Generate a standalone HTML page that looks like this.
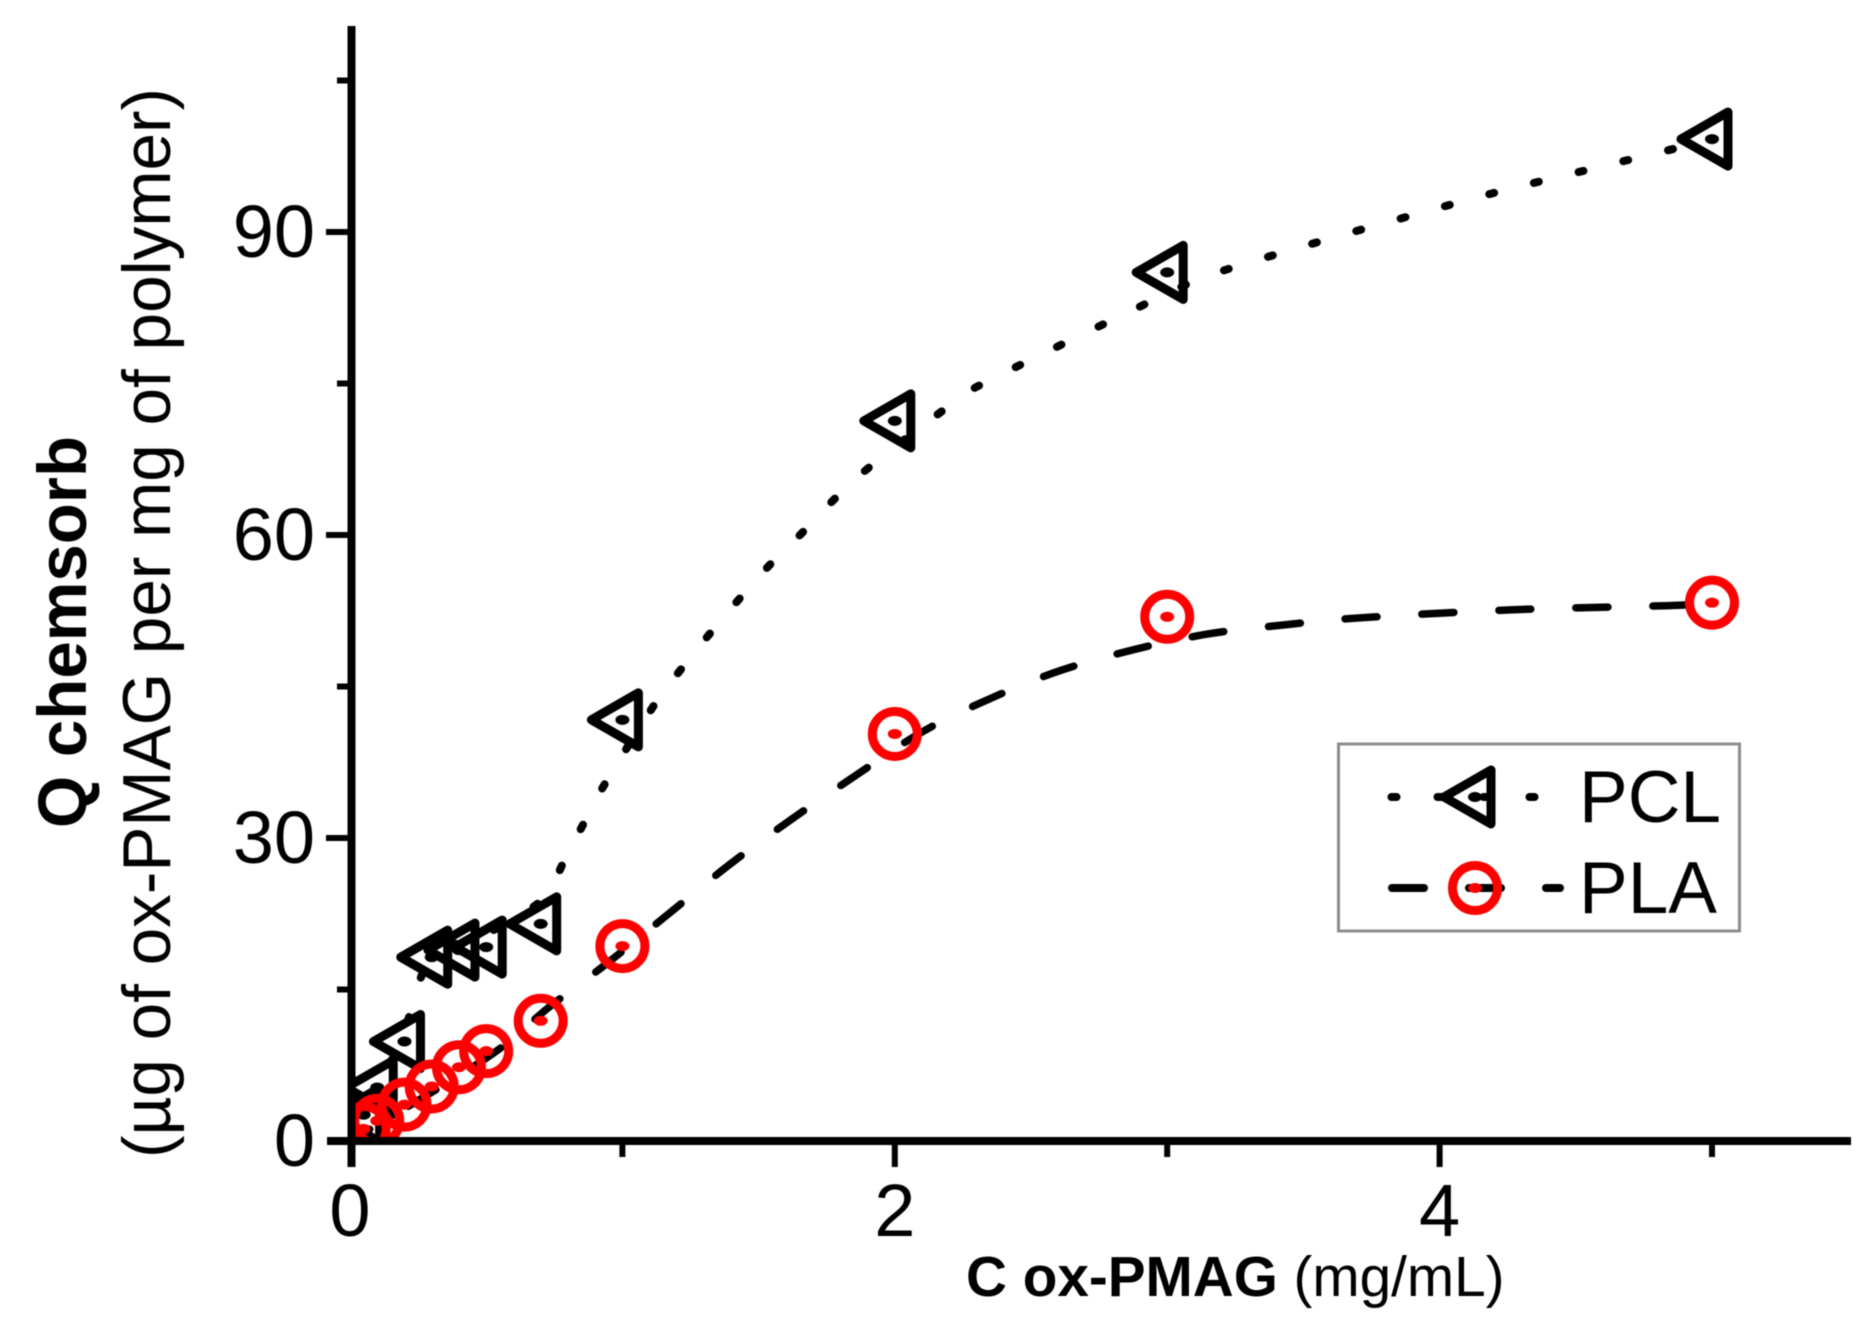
<!DOCTYPE html>
<html>
<head>
<meta charset="utf-8">
<title>Q chemsorb vs C ox-PMAG</title>
<style>
html,body{margin:0;padding:0;background:#fff;width:1875px;height:1333px;overflow:hidden}
svg{display:block;font-family:"Liberation Sans",sans-serif;filter:blur(0.6px)}
</style>
</head>
<body>
<svg id="chart" width="1875" height="1333" viewBox="0 0 1875 1333" xmlns="http://www.w3.org/2000/svg">
  <defs><clipPath id="plot-clip"><rect x="350" y="0" width="1525" height="1141"></rect></clipPath></defs>
  <rect width="1875" height="1333" fill="#fff"></rect>
  <g id="curves" clip-path="url(#plot-clip)"></g>
  <g id="markers" clip-path="url(#plot-clip)"></g>
  <g id="axes"></g>
  <text transform="translate(86,828) rotate(-90)" font-size="69" font-weight="bold" textLength="392" lengthAdjust="spacingAndGlyphs" fill="#000">Q chemsorb</text>
  <text transform="translate(170,1158) rotate(-90)" font-size="68" textLength="1070" lengthAdjust="spacingAndGlyphs" fill="#000">(µg of ox-PMAG per mg of polymer)</text>
  <text x="966" y="1296" font-size="56.7" fill="#000"><tspan font-weight="bold">C ox-PMAG</tspan> (mg/mL)</text>
  <g>
    <rect x="1338.5" y="744" width="401" height="187" fill="#fff" stroke="#8c8c8c" stroke-width="3"></rect>
    <g id="legend-samples"></g>
    <text x="1579" y="822" font-size="73" fill="#000">PCL</text>
    <text x="1579" y="913" font-size="73" fill="#000">PLA</text>
  </g>
</svg>
<script>
// Measured markers
const pclX = [0.05, 0.1, 0.2, 0.3, 0.4, 0.5, 0.7, 1, 2, 3, 5];
const pclY = [2.6, 5.3, 9.85, 18.2, 18.9, 19.2, 21.5, 41.7, 71.3, 86, 99.2];
const plaX = [0.05, 0.1, 0.2, 0.3, 0.4, 0.5, 0.7, 1, 2, 3, 5];
const plaY = [1.2, 2, 3.6, 5.4, 7.3, 8.9, 11.9, 19.3, 40.3, 51.9, 53.3];
// Smooth fit curves
const pclCurveX = [0, 0.1, 0.2, 0.3, 0.5, 0.706, 0.784, 0.861, 0.941, 1.12, 1.215, 1.323, 1.433, 1.543, 1.663, 1.78, 1.906, 2.18, 2.317, 3.07, 3.22, 3.54, 3.866, 4.19, 4.52, 4.84, 5];
const pclCurveY = [0, 5, 11, 18.2, 20.5, 23.9, 27.6, 31.6, 35.6, 43.3, 46.7, 50.3, 53.8, 57.1, 60.3, 63.6, 66.7, 72.4, 74.9, 84.8, 86.3, 88.9, 91.4, 93.8, 96, 98.1, 99.2];
const plaCurveX = [0, 0.5, 0.733, 0.944, 1.17, 1.39, 1.618, 1.857, 2.1, 2.35, 2.61, 2.885, 3.15, 3.43, 3.71, 4.27, 4.83, 5];
const plaCurveY = [0, 8.2, 13.3, 17.6, 22.5, 27.3, 31.8, 36.2, 40.5, 43.8, 46.6, 48.7, 50.2, 51.1, 51.8, 52.6, 53, 53.2];
// Axis ticks
const xMajorTicks = [0, 2, 4];
const xMinorTicks = [1, 3, 5];
const yMajorTicks = [0, 30, 60, 90];
const yMinorTicks = [15, 45, 75, 105];

const NS = 'http://www.w3.org/2000/svg';
const xScale = v => 350 + 272.4 * v;
const yScale = v => 1141 - 10.1 * v;

function make(tag, attrs, parent) {
  const el = document.createElementNS(NS, tag);
  for (const k in attrs) el.setAttribute(k, attrs[k]);
  parent.appendChild(el);
  return el;
}

function smoothPath(xs, ys) {
  const p = xs.map((x, i) => [xScale(x), yScale(ys[i])]);
  let d = 'M' + p[0][0] + ' ' + p[0][1];
  for (let i = 0; i < p.length - 1; i++) {
    const a = p[Math.max(i - 1, 0)], b = p[i], c = p[i + 1], e = p[Math.min(i + 2, p.length - 1)];
    d += ' C' + (b[0] + (c[0] - a[0]) / 6) + ' ' + (b[1] + (c[1] - a[1]) / 6) + ' ' +
         (c[0] - (e[0] - b[0]) / 6) + ' ' + (c[1] - (e[1] - b[1]) / 6) + ' ' + c[0] + ' ' + c[1];
  }
  return d;
}

// Align the dash pattern so that a dash is centred where the path crosses a given x value.
function alignDash(path, dash, xValue) {
  const target = xScale(xValue), total = path.getTotalLength();
  let best = 0, bestDist = Infinity;
  for (let l = 0; l <= total; l += 1) {
    const dist = Math.abs(path.getPointAtLength(l).x - target);
    if (dist < bestDist) { bestDist = dist; best = l; }
  }
  path.setAttribute('stroke-dashoffset', dash / 2 - best);
}

function triangle(cx, cy, parent) {
  const g = make('g', {}, parent);
  
  
  make('path', {d: 'M' + (cx - 31) + ' ' + cy + ' L' + (cx + 16) + ' ' + (cy - 27) + ' L' + (cx + 16) + ' ' + (cy + 27) + ' Z',
    fill: 'none', stroke: '#000', 'stroke-width': 9, 'stroke-linejoin': 'round'}, g);
  make('ellipse', {cx: cx, cy: cy, rx: 7, ry: 5, fill: '#000'}, g);
}

function ring(cx, cy, parent) {
  const g = make('g', {}, parent);
  
  
  make('circle', {cx: cx, cy: cy, r: 22.5, fill: 'none', stroke: '#f00', 'stroke-width': 9}, g);
  make('ellipse', {cx: cx, cy: cy, rx: 7, ry: 5, fill: '#f00'}, g);
}

const curves = document.getElementById('curves');
const markers = document.getElementById('markers');
const axes = document.getElementById('axes');
const legendSamples = document.getElementById('legend-samples');

const pclCurve = make('path', {d: smoothPath(pclCurveX, pclCurveY), fill: 'none', stroke: '#000',
  'stroke-width': 8, 'stroke-linecap': 'round', 'stroke-dasharray': '5 41'}, curves);


alignDash(pclCurve, 5, 3.54);

const plaCurve = make('path', {d: smoothPath(plaCurveX, plaCurveY), fill: 'none', stroke: '#000',
  'stroke-width': 7.5, 'stroke-linecap': 'round', 'stroke-dasharray': '32 45'}, curves);


alignDash(plaCurve, 32, 3.71);

pclX.forEach((x, i) => triangle(xScale(x), yScale(pclY[i]), markers));
plaX.forEach((x, i) => ring(xScale(x), yScale(plaY[i]), markers));

// Axis lines
const yAxisLine = make('line', {x1: 351.5, x2: 351.5, y1: 26, y2: 1167, stroke: '#000', 'stroke-width': 8}, axes);


const xAxisLine = make('line', {x1: 327, x2: 1851, y1: 1141, y2: 1141, stroke: '#000', 'stroke-width': 8}, axes);



xMajorTicks.forEach(v => {
  if (v !== 0) {
    const t = make('line', {x1: xScale(v), x2: xScale(v), y1: 1141, y2: 1167, stroke: '#000', 'stroke-width': 6}, axes);
    
    
  }
  const l = make('text', {x: xScale(v), y: 1236, 'font-size': 74, 'text-anchor': 'middle', fill: '#000'}, axes);
  
  
  l.textContent = v;
});
xMinorTicks.forEach(v => {
  const t = make('line', {x1: xScale(v), x2: xScale(v), y1: 1141, y2: 1157, stroke: '#000', 'stroke-width': 6}, axes);
  
  
});
yMajorTicks.forEach(v => {
  if (v !== 0) {
    const t = make('line', {x1: 326, x2: 351, y1: yScale(v), y2: yScale(v), stroke: '#000', 'stroke-width': 6}, axes);
    
    
  }
  const l = make('text', {x: 315, y: yScale(v) + 25, 'font-size': 74, 'text-anchor': 'end', fill: '#000'}, axes);
  
  
  l.textContent = v;
});
yMinorTicks.forEach(v => {
  const t = make('line', {x1: 337, x2: 351, y1: yScale(v), y2: yScale(v), stroke: '#000', 'stroke-width': 6}, axes);
  
  
});

// Legend samples
const pclSample = make('line', {x1: 1391.5, x2: 1536, y1: 797, y2: 797, stroke: '#000', 'stroke-width': 8,
  'stroke-linecap': 'round', 'stroke-dasharray': '5 41'}, legendSamples);


triangle(1475, 797, legendSamples);
const plaSample = make('line', {x1: 1392, x2: 1560, y1: 888, y2: 888, stroke: '#000', 'stroke-width': 8,
  'stroke-linecap': 'round', 'stroke-dasharray': '32 45'}, legendSamples);


ring(1475, 888, legendSamples);
</script>
</body>
</html>
